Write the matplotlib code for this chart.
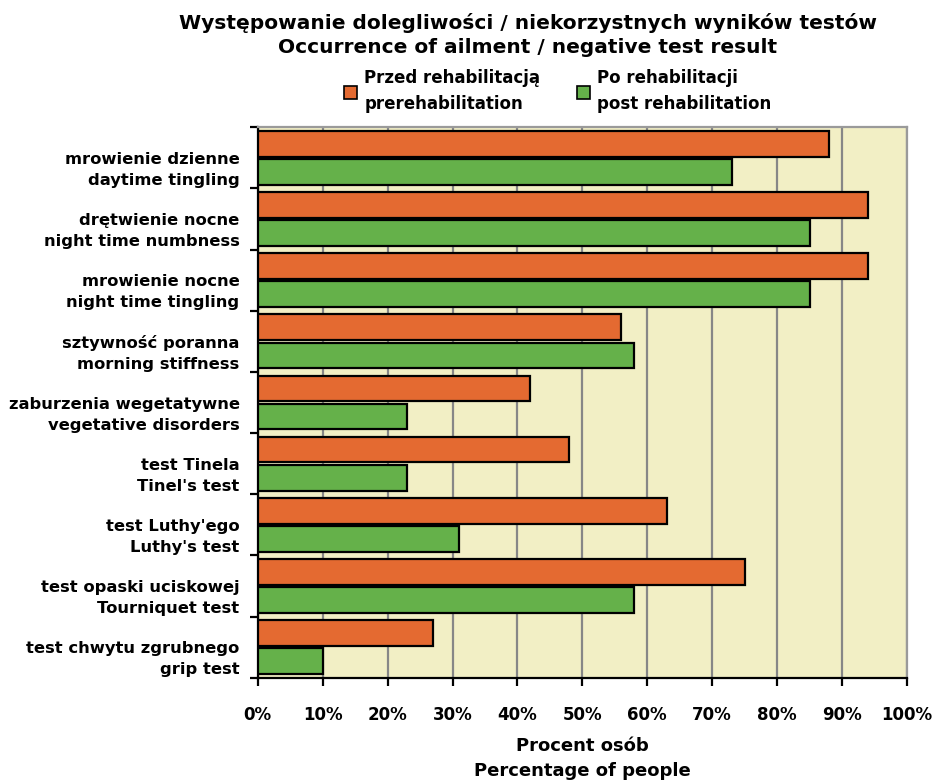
import numpy as np
import matplotlib.pyplot as plt
from matplotlib.patches import Patch
from matplotlib.ticker import FuncFormatter, MultipleLocator
import matplotlib.transforms as mtransforms

plt.rcParams['font.family'] = ['DejaVu Sans']
plt.rcParams['font.weight'] = 'bold'

# kategorie (od góry)
kategorie = [
    "mrowienie dzienne\ndaytime tingling",
    "drętwienie nocne\nnight time numbness",
    "mrowienie nocne\nnight time tingling",
    "sztywność poranna\nmorning stiffness",
    "zaburzenia wegetatywne\nvegetative disorders",
    "test Tinela\nTinel's test",
    "test Luthy'ego\nLuthy's test",
    "test opaski uciskowej\nTourniquet test",
    "test chwytu zgrubnego\ngrip test",
]
przed = [88, 94, 94, 56, 42, 48, 63, 75, 27]   # % osób przed rehabilitacją
po = [73, 85, 85, 58, 23, 23, 31, 58, 10]      # % osób po rehabilitacji

c_przed = '#E46A31'
c_po = '#65B14A'
tlo = '#F2EFC5'

fig = plt.figure(figsize=(9.34, 7.8), dpi=100)
ax = fig.add_axes([0.276, 0.131, 0.695, 0.706])

n = len(kategorie)
y = np.arange(n)
h = 0.42
ax.barh(y - h / 2 - 0.02, przed, height=h, color=c_przed, edgecolor='black', linewidth=1.6, zorder=3)
ax.barh(y + h / 2 + 0.02, po, height=h, color=c_po, edgecolor='black', linewidth=1.6, zorder=3)

ax.set_xlim(0, 100)
ax.set_ylim(n - 0.5, -0.5)
ax.set_facecolor(tlo)
ax.xaxis.set_major_locator(MultipleLocator(10))
ax.xaxis.set_major_formatter(FuncFormatter(lambda v, p: f"{v:.0f}%"))
ax.grid(axis='x', color='#878787', linewidth=1.6, zorder=1)

for s in ['top', 'right']:
    ax.spines[s].set_color('#9A9A9A')
    ax.spines[s].set_linewidth(1.6)
for s in ['left', 'bottom']:
    ax.spines[s].set_color('black')
    ax.spines[s].set_linewidth(1.6)

# znaczniki osi Y na granicach kategorii
ax.set_yticks(np.arange(n + 1) - 0.5)
ax.set_yticklabels([])
ax.tick_params(axis='y', length=6, width=1.6, direction='out')
ax.tick_params(axis='x', length=6, width=1.6, direction='out', pad=14, labelsize=12)
for lab in ax.get_xticklabels():
    lab.set_fontweight('bold')

trans = mtransforms.blended_transform_factory(ax.transAxes, ax.transData)
for i, k in enumerate(kategorie):
    ax.text(-0.028, i + 0.2, k, transform=trans, ha='right', va='center',
            fontsize=11.8, fontweight='bold', linespacing=1.5)

ax.set_xlabel("Procent osób\nPercentage of people", fontsize=13, fontweight='bold',
              labelpad=10, linespacing=1.45)

fig.text(0.565, 0.971, "Występowanie dolegliwości / niekorzystnych wyników testów",
         ha='center', va='center', fontsize=14.5, fontweight='bold')
fig.text(0.565, 0.939, "Occurrence of ailment / negative test result",
         ha='center', va='center', fontsize=14.5, fontweight='bold')

uchwyty = [Patch(facecolor=c_przed, edgecolor='black', linewidth=1.2),
           Patch(facecolor=c_po, edgecolor='black', linewidth=1.2)]
leg = fig.legend(uchwyty, ["Przed rehabilitacją\nprerehabilitation", "Po rehabilitacji\npost rehabilitation"],
                 loc='center', bbox_to_anchor=(0.597, 0.883), ncol=2, frameon=False,
                 prop={'size': 12, 'weight': 'bold'}, handlelength=0.8, handleheight=0.8,
                 handletextpad=0.4, columnspacing=2.2)
for t in leg.get_texts():
    t.set_linespacing(1.6)

fig.savefig('out.png', dpi=100, facecolor='white')
